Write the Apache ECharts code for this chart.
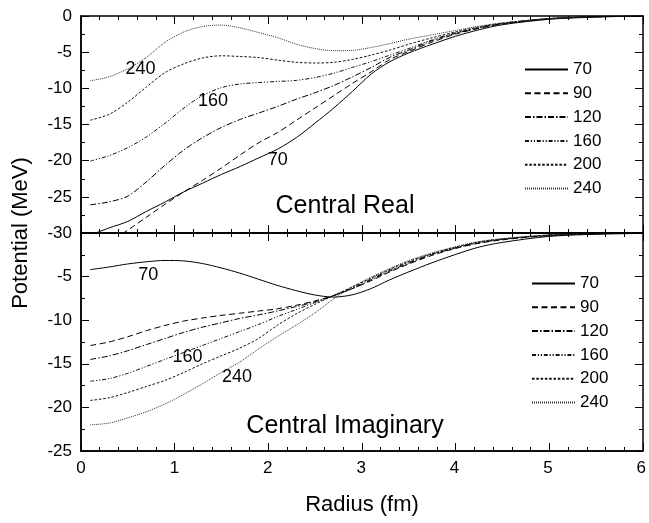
<!DOCTYPE html>
<html>
<head>
<meta charset="utf-8">
<script src="https://cdn.jsdelivr.net/npm/echarts@6/dist/echarts.min.js"></script>
<style>
html,body{margin:0;padding:0;background:#fff;}
#wrap{position:relative;width:649px;height:523px;}
#chart,#ticks{position:absolute;left:0;top:0;width:649px;height:523px;}
#ticks{pointer-events:none;}
</style>
</head>
<body>
<div id="wrap"><div id="chart"></div><div id="ticks"></div></div>
<script>
// ---- data ----
var radius = [0.1,0.3,0.5,0.7,0.9,1.1,1.3,1.5,1.7,1.9,2.1,2.3,2.5,2.7,2.9,3.1,3.3,3.5,3.75,4.0,4.25,4.5,5.0,5.5,6.0];
var energies = ['70','90','120','160','200','240'];

var real70  = [-30.3,-29.3,-28.4,-27.0,-25.7,-24.3,-23.1,-21.9,-20.8,-19.6,-18.4,-16.8,-14.8,-12.7,-10.4,-8.0,-6.3,-5.1,-3.9,-2.8,-1.9,-1.2,-0.45,-0.15,0];
var real90  = [-33.0,-31.3,-29.6,-27.8,-26.0,-24.3,-22.7,-21.0,-19.2,-17.5,-16.1,-14.4,-12.7,-11.0,-9.3,-7.7,-6.0,-4.9,-3.6,-2.5,-1.7,-1.1,-0.4,-0.12,0];
var real120 = [-26.1,-25.7,-24.9,-22.9,-20.6,-18.5,-16.8,-15.4,-14.3,-13.4,-12.5,-11.5,-10.6,-9.6,-8.4,-7.1,-5.7,-4.7,-3.4,-2.4,-1.65,-1.05,-0.38,-0.1,0];
var real160 = [-20.05,-19.3,-18.2,-16.7,-14.8,-12.7,-11.0,-9.9,-9.4,-9.2,-9.05,-8.9,-8.5,-7.9,-7.1,-6.3,-5.4,-4.5,-3.3,-2.3,-1.6,-1.0,-0.36,-0.1,0];
var real200 = [-14.4,-13.6,-11.9,-9.8,-7.8,-6.6,-5.8,-5.5,-5.6,-5.75,-6.1,-6.4,-6.5,-6.4,-6.0,-5.4,-4.7,-3.9,-3.0,-2.2,-1.5,-1.0,-0.35,-0.1,0];
var real240 = [-8.95,-8.4,-7.3,-5.7,-3.6,-2.2,-1.45,-1.25,-1.65,-2.3,-3.0,-3.9,-4.5,-4.8,-4.75,-4.35,-3.8,-3.2,-2.6,-2.0,-1.4,-0.95,-0.33,-0.08,0];

var imag70  = [-4.2,-3.9,-3.55,-3.3,-3.15,-3.2,-3.5,-4.0,-4.6,-5.3,-6.0,-6.6,-7.1,-7.35,-7.1,-6.4,-5.4,-4.5,-3.45,-2.5,-1.65,-1.1,-0.4,-0.15,-0.05];
var imag90  = [-12.9,-12.5,-11.9,-11.2,-10.6,-10.1,-9.75,-9.45,-9.2,-8.95,-8.7,-8.3,-7.8,-7.2,-6.4,-5.5,-4.5,-3.6,-2.6,-1.8,-1.2,-0.8,-0.3,-0.1,0];
var imag120 = [-14.5,-14.1,-13.5,-12.8,-12.1,-11.4,-10.8,-10.3,-9.8,-9.4,-8.95,-8.45,-7.9,-7.2,-6.4,-5.4,-4.4,-3.5,-2.5,-1.75,-1.15,-0.75,-0.3,-0.1,0];
var imag160 = [-17.0,-16.7,-16.1,-15.3,-14.5,-13.7,-12.9,-12.1,-11.3,-10.5,-9.6,-8.8,-8.0,-7.2,-6.3,-5.3,-4.3,-3.4,-2.45,-1.7,-1.1,-0.7,-0.25,-0.08,0];
var imag200 = [-19.2,-18.9,-18.3,-17.6,-16.9,-16.0,-15.0,-14.1,-13.2,-12.1,-10.6,-9.3,-8.2,-7.2,-6.2,-5.2,-4.2,-3.3,-2.4,-1.65,-1.05,-0.7,-0.25,-0.08,0];
var imag240 = [-22.0,-21.8,-21.2,-20.5,-19.6,-18.5,-17.3,-16.0,-14.8,-13.3,-11.9,-10.6,-9.2,-7.6,-6.2,-5.1,-4.1,-3.2,-2.3,-1.6,-1.0,-0.65,-0.22,-0.07,0];

var xTicks = [0,1,2,3,4,5,6];
var realTicks = [0,-5,-10,-15,-20,-25,-30];
var imagTicks = [-5,-10,-15,-20,-25];

// curve labels [radius, potential, text]
var realNotes = [[0.635,-7.3,'240'],[1.41,-11.7,'160'],[2.10,-19.9,'70']];
var imagNotes = [[0.72,-4.85,'70'],[1.14,-14.2,'160'],[1.67,-16.5,'240']];

// ---- build ----
var FONT = 'Liberation Sans, Arial, Helvetica, sans-serif';
var GW = 562, GH0 = 217, GH1 = 218;
var styles = {
  '70':  'solid',
  '90':  [6,3.5],
  '120': [6,2,1.5,2],
  '160': [4,1.8,1.2,1.8,1.2,1.8],
  '200': [2.5,1.8],
  '240': [1,1]
};
var colors = {'70':'#000','90':'#000','120':'#000','160':'#111','200':'#111','240':'#333'};
var realSets = [real70,real90,real120,real160,real200,real240];
var imagSets = [imag70,imag90,imag120,imag160,imag200,imag240];

function pairs(vals){ return radius.map(function(r,i){ return [r, vals[i]]; }); }

function notesMark(notes){
  return {
    silent:true,
    symbol:'circle', symbolSize:1,
    itemStyle:{color:'transparent'},
    label:{show:true, formatter:function(p){return p.name;}, color:'#000', fontSize:18, fontFamily:FONT, position:'inside'},
    data: notes.map(function(n){ return {name:n[2], coord:[n[0],n[1]]}; })
  };
}

var series = [];
energies.forEach(function(e, i){
  var s = {
    name:e, type:'line', xAxisIndex:0, yAxisIndex:0,
    data:pairs(realSets[i]), showSymbol:false, symbol:'none', smooth:0.3, clip:true,
    lineStyle:{color:colors[e], width:1, type:styles[e]}, itemStyle:{color:colors[e]}
  };
  if (i===0) s.markPoint = notesMark(realNotes);
  series.push(s);
});
energies.forEach(function(e, i){
  var s = {
    name:e, type:'line', xAxisIndex:1, yAxisIndex:1,
    data:pairs(imagSets[i]), showSymbol:false, symbol:'none', smooth:0.3, clip:true,
    lineStyle:{color:colors[e], width:1, type:styles[e]}, itemStyle:{color:colors[e]}
  };
  if (i===0) s.markPoint = notesMark(imagNotes);
  series.push(s);
});

function axLine(){ return {show:true, onZero:false, lineStyle:{color:'#000', width:1.5}}; }
function grids(){
  return [
    {left:81, top:16, width:GW, height:GH0},
    {left:81, top:233, width:GW, height:GH1}
  ];
}

// main chart: frame, labels, curves, legends, texts
function xMain(grid, labels){
  return {type:'value', gridIndex:grid, position:'bottom', min:xTicks[0], max:xTicks[xTicks.length-1], interval:1,
    axisLine:axLine(), axisTick:{show:false}, minorTick:{show:false}, splitLine:{show:false},
    axisLabel:{show:labels, color:'#000', fontSize:17, fontFamily:FONT, margin:9}};
}
function yMain(grid, ticks, showTop){
  return {type:'value', gridIndex:grid, position:'left', min:ticks[ticks.length-1], max:0, interval:5,
    axisLine:axLine(), axisTick:{show:false}, minorTick:{show:false}, splitLine:{show:false},
    axisLabel:{show:true, color:'#000', fontSize:17, fontFamily:FONT, margin:9, showMaxLabel:showTop}};
}

function makeLegend(left, top){
  return {
    orient:'vertical', data:energies, itemWidth:43, itemHeight:17, itemGap:6.8, padding:0,
    left:left, top:top, selectedMode:false,
    itemStyle:{color:'transparent', borderWidth:0},
    textStyle:{color:'#000', fontSize:17, fontFamily:FONT}
  };
}

var option = {
  animation:false,
  backgroundColor:'#fff',
  grid:grids(),
  xAxis:[xMain(0,false), xMain(1,true)],
  yAxis:[yMain(0,realTicks,true), yMain(1,imagTicks,false)],
  legend:[makeLegend(524,61), makeLegend(531,275)],
  graphic:[
    {type:'text', x:21, y:233, rotation:Math.PI/2,
     style:{text:'Potential (MeV)', fill:'#000', fontSize:22, fontFamily:FONT, align:'center', verticalAlign:'middle'}},
    {type:'text', x:362, y:505,
     style:{text:'Radius (fm)', fill:'#000', fontSize:22, fontFamily:FONT, align:'center', verticalAlign:'middle'}},
    {type:'text', x:345, y:206,
     style:{text:'Central Real', fill:'#000', fontSize:25, fontFamily:FONT, align:'center', verticalAlign:'middle'}},
    {type:'text', x:345, y:426,
     style:{text:'Central Imaginary', fill:'#000', fontSize:25, fontFamily:FONT, align:'center', verticalAlign:'middle'}}
  ],
  series:series
};

// overlay chart: only the frame axes with their inward-pointing ticks
function xTickAx(grid, pos, off){
  return {
    type:'value', gridIndex:grid, position:pos, offset:off,
    min:xTicks[0], max:xTicks[xTicks.length-1], interval:1,
    axisLine:axLine(),
    axisTick:{show:true, inside:false, length:8, lineStyle:{color:'#000'}},
    minorTick:{show:true, splitNumber:5, length:4, lineStyle:{color:'#000'}},
    splitLine:{show:false}, axisLabel:{show:false}
  };
}
function yTickAx(grid, pos, off, ticks){
  return {
    type:'value', gridIndex:grid, position:pos, offset:off,
    min:ticks[ticks.length-1], max:0, interval:5,
    axisLine:axLine(),
    axisTick:{show:true, inside:false, length:8, lineStyle:{color:'#000'}},
    minorTick:{show:true, splitNumber:2, length:4, lineStyle:{color:'#000'}},
    splitLine:{show:false}, axisLabel:{show:false}
  };
}
var tickOption = {
  animation:false,
  backgroundColor:'transparent',
  grid:grids(),
  xAxis:[
    xTickAx(0,'top',-GH0), xTickAx(0,'bottom',-GH0),
    xTickAx(1,'top',-GH1), xTickAx(1,'bottom',-GH1)
  ],
  yAxis:[
    yTickAx(0,'right',-GW,realTicks), yTickAx(0,'left',-GW,realTicks),
    yTickAx(1,'right',-GW,imagTicks), yTickAx(1,'left',-GW,imagTicks)
  ],
  series:[]
};

var chart = echarts.init(document.getElementById('chart'), null, {renderer:'canvas'});
chart.setOption(option);
var tickChart = echarts.init(document.getElementById('ticks'), null, {renderer:'canvas'});
tickChart.setOption(tickOption);
</script>
</body>
</html>
